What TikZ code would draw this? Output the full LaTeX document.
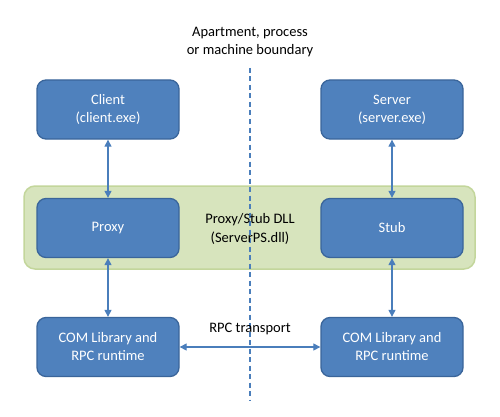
\documentclass[tikz,border=0pt]{standalone}
\usepackage{fontspec}
\setmainfont{Carlito}
\usetikzlibrary{arrows.meta}
\definecolor{boxfill}{HTML}{4F81BD}
\definecolor{boxline}{HTML}{3A659A}
\definecolor{grnfill}{HTML}{D7E4BD}
\definecolor{grnline}{HTML}{C3D69B}
\definecolor{arr}{HTML}{4A7EBB}
\begin{document}
\begin{tikzpicture}[x=1pt,y=-1pt,
  bbox/.style={draw=boxline,fill=boxfill,line width=1.3pt,rounded corners=9pt,
    minimum width=142pt,minimum height=59pt,text=white,align=center,
    font=\fontsize{14.5}{18}\selectfont},
  lbl/.style={align=center,font=\fontsize{14.5}{18.5}\selectfont},
  conn/.style={arr,line width=1.1pt,{Triangle[length=7pt,width=7pt]}-{Triangle[length=7pt,width=7pt]}}]
\useasboundingbox (0,0) rectangle (500,417);
% green band
\node (dll) [draw=grnline,fill=grnfill,line width=1.5pt,rounded corners=11pt,
  minimum width=451pt,minimum height=83pt] at (249.5,227.5) {};
% boundary line
\coordinate (btop) at (250,68);
\coordinate (bbot) at (250,401);
\draw[arr,line width=1.2pt,dash pattern=on 5pt off 3.5pt] (btop) -- (bbot);
\node (blbl) [lbl] at (250,42) {Apartment, process\\or machine boundary};
% boxes
\node (client) [bbox] at (108,109.5) {Client\\(client.exe)};
\node (server) [bbox] at (392,109.5) {Server\\(server.exe)};
\node (proxy) [bbox] at (108,228) {Proxy};
\node (stub) [bbox] at (392,228) {Stub};
\node (coml) [bbox] at (108,347) {COM Library and\\RPC runtime};
\node (comr) [bbox] at (392,347) {COM Library and\\RPC runtime};
\node (dlllbl) [lbl] at (250,229) {Proxy/Stub DLL\\(ServerPS.dll)};
\node (rpc) [lbl] at (250,329) {RPC transport};
% connectors
\draw[conn] (client) -- (proxy);
\draw[conn] (proxy) -- (coml);
\draw[conn] (server) -- (stub);
\draw[conn] (stub) -- (comr);
\draw[conn] (coml) -- (comr);
\end{tikzpicture}
\end{document}
